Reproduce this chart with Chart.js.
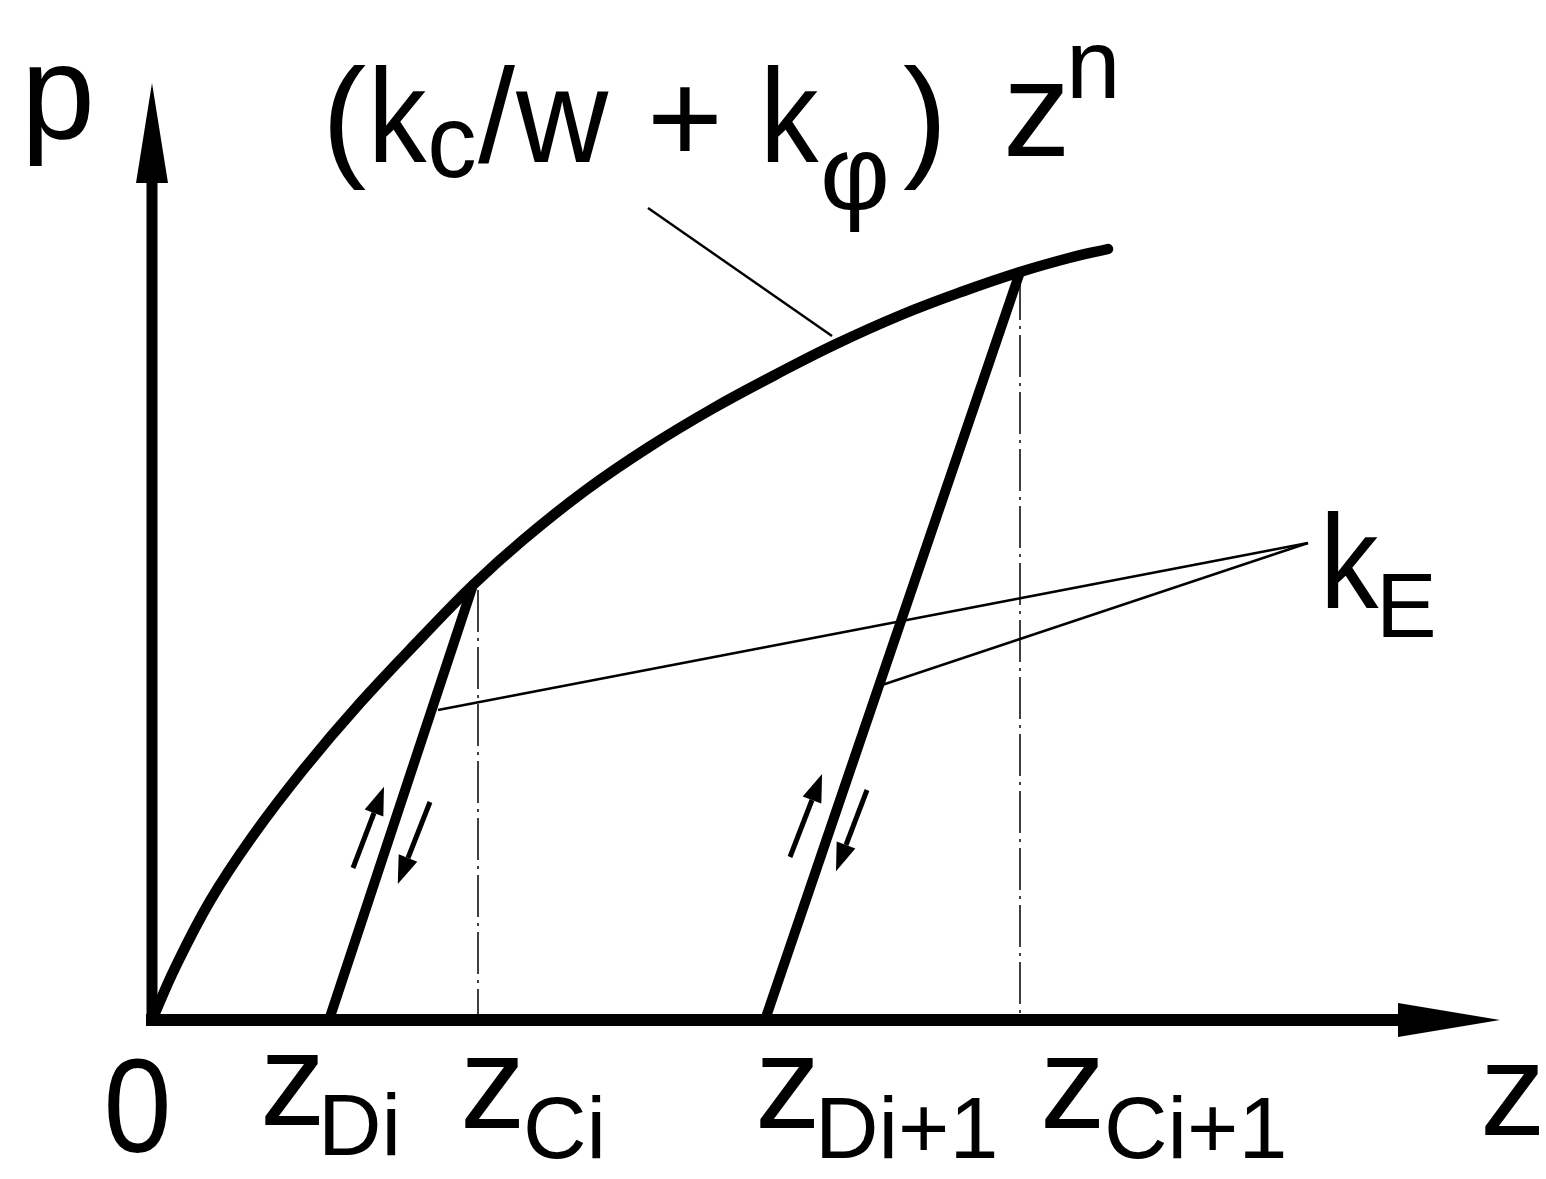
<!DOCTYPE html>
<html>
<head>
<meta charset="utf-8">
<script src="https://cdn.jsdelivr.net/npm/chart.js@4.4.1/dist/chart.umd.min.js"></script>
<style>
  body { margin: 0; background: #fff; }
  #wrap { width: 1546px; height: 1179px; }
</style>
</head>
<body>
<div id="wrap"><canvas id="myChart"></canvas></div>
<script>
'use strict';
// loading curve p = (kc/w + kphi) z^n
let curveZ = [0, 0.23, 0.58, 1.00, 1.51, 2.08, 2.71, 3.21, 3.71, 4.34, 4.97, 5.60, 6.23, 6.82, 7.49, 8.12, 8.68, 9.17, 9.56];
let curveP = [0, 0.52, 1.19, 1.83, 2.50, 3.17, 3.84, 4.35, 4.80, 5.30, 5.73, 6.11, 6.45, 6.75, 7.05, 7.29, 7.48, 7.62, 7.71];

// unloading / reloading lines (start on curve, end on z axis)
let unloadZ = [[3.21, 1.77], [8.68, 6.13]];
let unloadP = [[4.35, 0], [7.48, 0]];

// z_Ci markers
let markZ = [3.26, 8.68];
let markP = [4.30, 7.42];

// leader lines
let leaderZ = [[4.96, 6.80], [11.56, 2.86], [11.56, 7.30]];
let leaderP = [[8.12, 6.84], [4.77, 3.10], [4.77, 3.35]];

// small direction arrows (tail -> head base)
let smallZ = [[2.01, 2.22], [2.78, 2.56], [6.38, 6.60], [7.15, 6.94]];
let smallP = [[1.52, 2.07], [2.18, 1.62], [1.63, 2.20], [2.30, 1.75]];

// axis ends (head base)
let axisZmax = 12.46;
let axisPmax = 8.37;

// text pieces: text, z, p, font size, width squeeze
let labels = [
  ['p', -1.23, 8.82, 133, 1],
  ['(', 1.78, 8.58, 133, 1],
  ['k', 2.23, 8.58, 133, 0.88],
  ['c', 2.79, 8.43, 104, 0.95],
  ['/', 3.26, 8.58, 133, 1],
  ['w', 3.63, 8.58, 133, 0.96],
  ['+', 5.01, 8.58, 130, 1],
  ['k', 6.15, 8.58, 133, 0.88],
  ['\u03C6', 6.72, 8.10, 108, 1],
  [')', 7.51, 8.58, 133, 1],
  ['z', 8.56, 8.64, 135, 1],
  ['n', 9.20, 9.22, 98, 1],
  ['k', 11.75, 4.12, 133, 0.88],
  ['E', 12.31, 3.83, 91, 1],
  ['0', -0.44, -1.32, 133, 0.92],
  ['z', 1.13, -1.05, 131, 1],
  ['Di', 1.73, -1.35, 88, 1],
  ['z', 3.13, -1.08, 131, 1],
  ['Ci', 3.75, -1.38, 88, 1],
  ['z', 6.08, -1.08, 131, 1],
  ['Di+1', 6.70, -1.38, 88, 1],
  ['z', 8.93, -1.08, 131, 1],
  ['Ci+1', 9.56, -1.38, 88, 1],
  ['z', 13.33, -1.15, 131, 1]
];

function pts(zs, ps) {
  let out = [];
  for (let i = 0; i < zs.length; i++) {
    out.push({x: zs[i], y: ps[i]});
  }
  return out;
}

function line(data, width, extra) {
  let ds = {
    data: data,
    showLine: true,
    borderColor: '#000',
    borderWidth: width,
    pointRadius: 0,
    fill: false,
    borderCapStyle: 'butt'
  };
  return Object.assign(ds, extra || {});
}

let datasets = [];
datasets.push(line(pts(curveZ, curveP), 10.5, {tension: 0.4, borderCapStyle: 'round', borderJoinStyle: 'round'}));
for (let i = 0; i < unloadZ.length; i++) {
  datasets.push(line(pts(unloadZ[i], unloadP[i]), 10, {borderCapStyle: 'round'}));
}
for (let i = 0; i < markZ.length; i++) {
  datasets.push(line(pts([markZ[i], markZ[i]], [markP[i], 0]), 1.5, {borderDash: [42, 6, 3, 6]}));
}
for (let i = 0; i < leaderZ.length; i++) {
  datasets.push(line(pts(leaderZ[i], leaderP[i]), 2.5));
}
datasets.push(line(pts([0, 0], [0, axisPmax]), 11, {arrowLen: 100, arrowHalf: 16, borderCapStyle: 'square'}));
datasets.push(line(pts([0, axisZmax], [0, 0]), 12, {arrowLen: 102, arrowHalf: 17, borderCapStyle: 'square'}));
for (let i = 0; i < smallZ.length; i++) {
  datasets.push(line(pts(smallZ[i], smallP[i]), 5, {arrowLen: 28, arrowHalf: 10}));
}

let arrowPlugin = {
  id: 'arrows',
  afterDatasetsDraw(chart) {
    let ctx = chart.ctx;
    chart.data.datasets.forEach(function (ds, i) {
      if (!ds.arrowLen) return;
      let el = chart.getDatasetMeta(i).data;
      let a = el[el.length - 2], b = el[el.length - 1];
      let dx = b.x - a.x, dy = b.y - a.y;
      let d = Math.sqrt(dx * dx + dy * dy);
      dx /= d; dy /= d;
      ctx.save();
      ctx.fillStyle = '#000';
      ctx.beginPath();
      ctx.moveTo(b.x + dx * ds.arrowLen, b.y + dy * ds.arrowLen);
      ctx.lineTo(b.x - dy * ds.arrowHalf, b.y + dx * ds.arrowHalf);
      ctx.lineTo(b.x + dy * ds.arrowHalf, b.y - dx * ds.arrowHalf);
      ctx.closePath();
      ctx.fill();
      ctx.restore();
    });
  }
};

let textPlugin = {
  id: 'texts',
  afterDraw(chart) {
    let ctx = chart.ctx;
    let xs = chart.scales.x, ys = chart.scales.y;
    ctx.save();
    ctx.fillStyle = '#000';
    ctx.textBaseline = 'alphabetic';
    ctx.textAlign = 'left';
    labels.forEach(function (l) {
      ctx.font = l[3] + 'px "Liberation Sans", Arial, sans-serif';
      let m = ctx.measureText(l[0]);
      ctx.save();
      ctx.translate(xs.getPixelForValue(l[1]), ys.getPixelForValue(l[2]));
      ctx.scale(l[4], 1);
      // ink's left edge sits on the position
      ctx.fillText(l[0], m.actualBoundingBoxLeft, 0);
      ctx.restore();
    });
    ctx.restore();
  }
};

let ctx = document.getElementById('myChart').getContext('2d');
let myChart = new Chart(ctx, {
  type: 'scatter',
  data: { datasets: datasets },
  options: {
    responsive: true,
    maintainAspectRatio: false,
    animation: false,
    layout: { padding: 0 },
    plugins: { legend: { display: false }, tooltip: { enabled: false } },
    scales: {
      x: { type: 'linear', display: false, min: -1.52, max: 13.94 },
      y: { type: 'linear', display: false, min: -1.59, max: 10.20 }
    }
  },
  plugins: [arrowPlugin, textPlugin]
});
</script>
</body>
</html>
